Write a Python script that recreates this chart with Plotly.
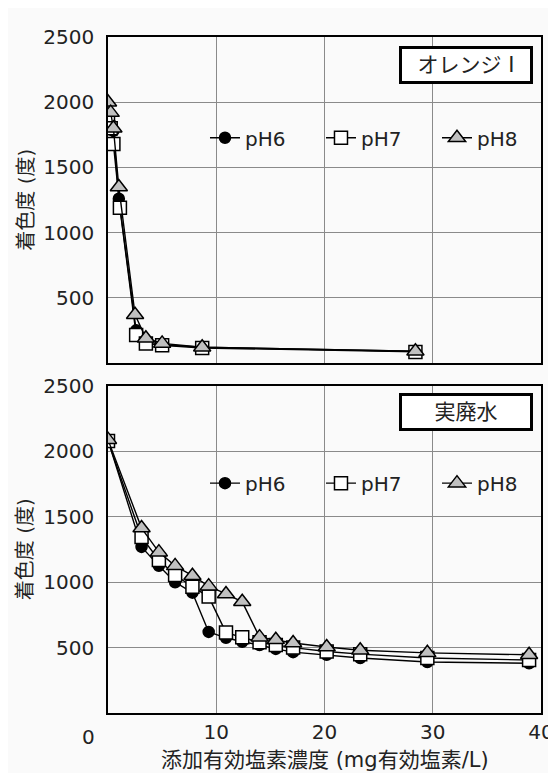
import plotly.graph_objects as go

# ---- Data: top panel (オレンジI) ----
top_x_ph6 = [0, 0.25, 0.5, 1.0, 2.6, 3.5, 5.0, 8.7, 28.4]
top_y_ph6 = [1890, 1830, 1780, 1260, 250, 165, 140, 120, 90]
top_x_ph7 = [0, 0.25, 0.5, 1.1, 2.6, 3.5, 5.0, 8.7, 28.4]
top_y_ph7 = [1860, 1800, 1680, 1190, 215, 150, 135, 115, 85]
top_x_ph8 = [0, 0.25, 0.5, 1.0, 2.5, 3.5, 5.0, 8.7, 28.4]
top_y_ph8 = [2000, 1920, 1800, 1350, 370, 190, 150, 120, 90]

# ---- Data: bottom panel (実廃水) ----
bot_x = [0, 3.1, 4.7, 6.2, 7.8, 9.3, 10.9, 12.4, 14.0, 15.5, 17.1, 20.2, 23.3, 29.5, 38.9]
bot_y_ph6 = [2085, 1270, 1125, 1000, 920, 620, 575, 545, 520, 490, 465, 445, 420, 390, 380]
bot_y_ph7 = [2080, 1345, 1170, 1055, 965, 890, 615, 580, 540, 520, 500, 470, 450, 420, 405]
bot_y_ph8 = [2090, 1414, 1230, 1125, 1050, 970, 910, 850, 580, 560, 535, 505, 480, 460, 445]

series_names = ["pH6", "pH7", "pH8"]
x_ticks = [10, 20, 30, 40]
y_ticks = [500, 1000, 1500, 2000, 2500]

FONT = "DejaVu Sans, Noto Sans CJK JP, sans-serif"
TXT = "#222"

styles = {
    "pH6": dict(symbol="circle", size=11, color="black", line=dict(color="black", width=1.5)),
    "pH7": dict(symbol="square", size=13, color="white", line=dict(color="black", width=1.5)),
    "pH8": dict(symbol="triangle-up", size=15, color="#c0c0c0", line=dict(color="black", width=1.5)),
}

fig = go.Figure()

top_data = [(top_x_ph6, top_y_ph6), (top_x_ph7, top_y_ph7), (top_x_ph8, top_y_ph8)]
bot_data = [(bot_x, bot_y_ph6), (bot_x, bot_y_ph7), (bot_x, bot_y_ph8)]

for name, (xs, ys) in zip(series_names, top_data):
    fig.add_trace(go.Scatter(x=xs, y=ys, mode="lines+markers", name=name,
                             line=dict(color="black", width=1.4),
                             marker=styles[name], xaxis="x", yaxis="y",
                             legend="legend"))
for name, (xs, ys) in zip(series_names, bot_data):
    fig.add_trace(go.Scatter(x=xs, y=ys, mode="lines+markers", name=name,
                             line=dict(color="black", width=1.4),
                             marker=styles[name], xaxis="x2", yaxis="y2",
                             legend="legend2"))

axis_common = dict(showline=True, mirror=True, linecolor="black", linewidth=1.5,
                   showgrid=True, gridcolor="#8a8a8a", gridwidth=1, zeroline=False,
                   automargin=False,
                   ticks="", tickfont=dict(family=FONT, size=20, color=TXT))

legend_common = dict(orientation="h", xanchor="left", yanchor="middle",
                     bgcolor="rgba(0,0,0,0)", font=dict(family=FONT, size=20, color=TXT),
                     entrywidth=71, entrywidthmode="pixels", itemclick=False)

# page has an 8px body margin: figure is 548x765 offset by 8px
fig.update_layout(
    width=548, height=765,
    margin=dict(l=100, r=15, t=29, b=60, autoexpand=False),
    paper_bgcolor="#fafafa", plot_bgcolor="#fafafa",
    font=dict(family=FONT, size=20, color=TXT),
    xaxis=dict(domain=[0, 1], anchor="y", range=[0, 40], tickvals=x_ticks,
               showticklabels=False, **axis_common),
    yaxis=dict(domain=[0.5178, 1], anchor="x", range=[0, 2500], tickvals=y_ticks,
               ticklabelstandoff=8, **axis_common),
    xaxis2=dict(domain=[0, 1], anchor="y2", range=[0, 40], tickvals=x_ticks,
                ticklabelstandoff=0, **axis_common),
    yaxis2=dict(domain=[0, 0.4837], anchor="x2", range=[0, 2500], tickvals=y_ticks,
                ticklabelstandoff=8, **axis_common),
    legend=dict(x=0.224, y=0.851, **legend_common),
    legend2=dict(x=0.224, y=0.340, **legend_common),
    showlegend=True,
)

box = dict(xref="paper", yref="paper", showarrow=False, bgcolor="white",
           xanchor="center", yanchor="middle",
           bordercolor="black", borderwidth=3, borderpad=2, width=124, height=28,
           font=dict(family=FONT, size=21, color=TXT))
fig.add_annotation(text="オレンジ I", x=0.827, y=0.9586, **box)
fig.add_annotation(text="実廃水", x=0.827, y=0.4453, **box)

fig.add_annotation(text="着色度 (度)", xref="paper", yref="paper", x=-0.19, y=0.7589,
                   xanchor="center", yanchor="middle",
                   textangle=-90, showarrow=False, font=dict(family=FONT, size=20, color=TXT))
fig.add_annotation(text="着色度 (度)", xref="paper", yref="paper", x=-0.19, y=0.2419,
                   xanchor="center", yanchor="middle",
                   textangle=-90, showarrow=False, font=dict(family=FONT, size=20, color=TXT))
fig.add_annotation(text="添加有効塩素濃度 (mg有効塩素/L)", xref="paper", yref="paper",
                   x=0.5, y=-0.069, xanchor="center", yanchor="middle", showarrow=False,
                   font=dict(family=FONT, size=21, color=TXT))
fig.add_annotation(text="0", xref="paper", yref="paper", x=-0.046, y=-0.0355,
                   xanchor="center", yanchor="middle", showarrow=False,
                   font=dict(family=FONT, size=20, color=TXT))

fig.write_html("out.html")
